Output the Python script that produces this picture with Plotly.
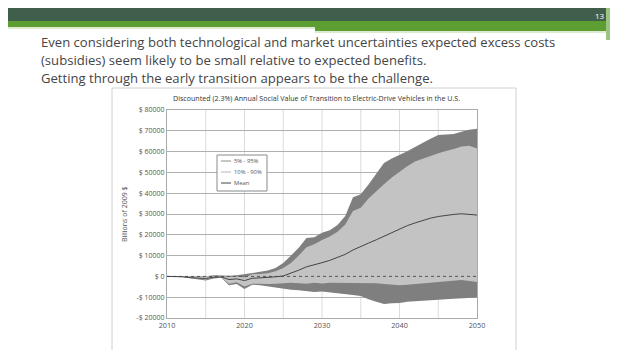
import plotly.graph_objects as go

years = list(range(2010, 2051))
upper_95 = [0, 0, 0, 0, 0, 0, 600, 400, 300, 500, 1000, 1500, 2000, 2800, 4000, 6500, 10000, 13800, 18500, 18800,
            21000, 22200, 24700, 29000, 38000, 39500, 44200, 49500, 54500, 56700, 58300, 60200, 62200, 64400, 66200,
            68000, 68300, 68500, 69500, 70500, 71000]
upper_90 = [0, 0, 0, 0, 0, 0, 200, 100, -300, 0, -500, 1000, 1200, 1500, 2500, 4000, 6500, 10000, 14000, 15500,
            17500, 19200, 21500, 25000, 31500, 33000, 37500, 41000, 44300, 47500, 50400, 53000, 55200, 56600, 58000,
            59200, 60300, 61200, 62500, 62800, 61500]
mean_v = [0, 0, -200, -600, -900, -1000, -400, -300, -1500, -1200, -2000, -900, -700, -600, -200, 200, 1500, 3000,
          4600, 5500, 6600, 7700, 9200, 10600, 12700, 14200, 16000, 17600, 19300, 21000, 22900, 24400, 25700, 26900,
          28000, 28800, 29400, 29800, 30100, 29900, 29500]
lower_10 = [0, 0, -200, -700, -1200, -1500, -500, -500, -3500, -2800, -4800, -3500, -3500, -3700, -3500, -3200,
            -3000, -3300, -3500, -3000, -3400, -3000, -3000, -3100, -3200, -3000, -3000, -3300, -3700, -4000, -4200,
            -4000, -3700, -3400, -3000, -2600, -2200, -1900, -1700, -2200, -2700]
lower_5 = [0, 0, -300, -900, -1600, -2000, -1000, -600, -4200, -3600, -6100, -4000, -4200, -4800, -5200, -5800,
           -6400, -6600, -7100, -7500, -7300, -7800, -8100, -8600, -9000, -9400, -11000, -12200, -13300, -12900,
           -12800, -12200, -11900, -11600, -11300, -11100, -11000, -10800, -10500, -10200, -10100]

y_ticks = [-20000, -10000, 0, 10000, 20000, 30000, 40000, 50000, 60000, 70000, 80000]
y_tick_text = ["-$ 20000", "-$ 10000", "$ 0", "$ 10000", "$ 20000", "$ 30000", "$ 40000", "$ 50000",
               "$ 60000", "$ 70000", "$ 80000"]
x_ticks = [2010, 2020, 2030, 2040, 2050]
legend_names = ["5% - 95%", "10% - 90%", "Mean"]

slide_lines = [
    "Even considering both technological and market uncertainties expected excess costs",
    "(subsidies) seem likely to be small relative to expected benefits.",
    "Getting through the early transition appears to be the challenge.",
]
chart_title = "Discounted (2.3%) Annual Social Value of Transition to Electric-Drive Vehicles in the U.S."

OFF = 8  # page body margin
W, H = 618 - OFF, 350 - OFF
L, R, T, B = 167, 477, 110, 318   # plot area in window pixels
def px(x):
    return (x - L) / (R - L)
def py(y):
    return (B - y) / (B - T)

DARK = "#7f7f7f"
LIGHT = "#c3c3c3"

fig = go.Figure()
fig.add_trace(go.Scatter(x=years, y=lower_5, mode="lines", line=dict(width=0, color=DARK), showlegend=False,
                         hoverinfo="skip"))
fig.add_trace(go.Scatter(x=years, y=upper_95, mode="lines", line=dict(width=0, color=DARK), fill="tonexty",
                         fillcolor=DARK, showlegend=False, hoverinfo="skip", name=legend_names[0]))
fig.add_trace(go.Scatter(x=years, y=lower_10, mode="lines", line=dict(width=0, color=LIGHT), showlegend=False,
                         hoverinfo="skip"))
fig.add_trace(go.Scatter(x=years, y=upper_90, mode="lines", line=dict(width=0, color=LIGHT), fill="tonexty",
                         fillcolor=LIGHT, showlegend=False, hoverinfo="skip", name=legend_names[1]))
fig.add_trace(go.Scatter(x=[2010, 2050], y=[0, 0], mode="lines", line=dict(width=1, color="#555555", dash="dot"),
                         showlegend=False, hoverinfo="skip"))
fig.add_trace(go.Scatter(x=years, y=mean_v, mode="lines", line=dict(width=1, color="#444444"), showlegend=False,
                         name=legend_names[2]))

shapes = [
    # chart box
    dict(type="rect", xref="paper", yref="paper", x0=px(112), x1=px(516), y0=py(352), y1=py(88),
         line=dict(color="#d0d0d0", width=1), fillcolor="white", layer="below"),
    # top bars
    dict(type="rect", xref="paper", yref="paper", x0=px(8), x1=px(620), y0=py(21), y1=py(5),
         line=dict(width=0), fillcolor="#3f5e4b", layer="below"),
    dict(type="rect", xref="paper", yref="paper", x0=px(8), x1=px(315), y0=py(27), y1=py(21),
         line=dict(width=0), fillcolor="#5c9e32", layer="below"),
    dict(type="rect", xref="paper", yref="paper", x0=px(315), x1=px(606), y0=py(31), y1=py(21),
         line=dict(width=0), fillcolor="#5c9e32", layer="below"),
    dict(type="rect", xref="paper", yref="paper", x0=px(8), x1=px(315), y0=py(29), y1=py(27),
         line=dict(width=0), fillcolor="#dcebd0", layer="below"),
    dict(type="rect", xref="paper", yref="paper", x0=px(315), x1=px(606), y0=py(33), y1=py(31),
         line=dict(width=0), fillcolor="#dcebd0", layer="below"),
    dict(type="rect", xref="paper", yref="paper", x0=px(606), x1=px(610), y0=py(40), y1=py(5),
         line=dict(width=0), fillcolor="#9cc47e", layer="below"),
    dict(type="rect", xref="paper", yref="paper", x0=px(612), x1=px(614), y0=py(40), y1=py(5),
         line=dict(width=0), fillcolor="#7aa65a", layer="below"),
    # legend box
    dict(type="rect", xref="paper", yref="paper", x0=px(217), x1=px(267), y0=py(191), y1=py(155),
         line=dict(color="#8a8a8a", width=1), fillcolor="white", layer="above"),
]

annotations = [
    dict(text="13", xref="paper", yref="paper", x=px(600), y=py(15), showarrow=False,
         font=dict(size=8, color="white", family="Open Sans"), xanchor="center", yanchor="middle"),
    dict(text=chart_title, xref="paper", yref="paper", x=px(316), y=py(98), showarrow=False,
         font=dict(size=7.1, color="#333333", family="Open Sans"), xanchor="center", yanchor="middle"),
    dict(text="Billions of 2009 $", xref="paper", yref="paper", x=px(124), y=py(215), showarrow=False,
         textangle=-90, font=dict(size=7, color="#555555", family="Open Sans"), xanchor="center",
         yanchor="middle"),
]
for i, line in enumerate(slide_lines):
    annotations.append(dict(text=line, xref="paper", yref="paper", x=px(39), y=py(42 + 18 * i), showarrow=False,
                            font=dict(size=13.1, color="#454545", family="Open Sans"), xanchor="left",
                            yanchor="middle"))
# manual legend
leg_colors = ["#8c8c8c", "#b8b8b8", "#444444"]
for i, (nm, c) in enumerate(zip(legend_names, leg_colors)):
    yy = 161 + 11 * i
    shapes.append(dict(type="line", xref="paper", yref="paper", x0=px(221), x1=px(231), y0=py(yy), y1=py(yy),
                       line=dict(color=c, width=1), layer="above"))
    annotations.append(dict(text=nm, xref="paper", yref="paper", x=px(232), y=py(yy), showarrow=False,
                            font=dict(size=5.8, color="#555555", family="Open Sans"), xanchor="left",
                            yanchor="middle"))

fig.update_layout(
    width=W, height=H,
    margin=dict(l=L - OFF, r=(W + OFF) - R, t=T - OFF, b=(H + OFF) - B),
    paper_bgcolor="white",
    plot_bgcolor="#f3f3f3",
    font=dict(family="Open Sans", color="#555555", size=6),
    shapes=shapes,
    annotations=annotations,
    showlegend=False,
    xaxis=dict(range=[2010, 2050], tickvals=x_ticks, showgrid=False, zeroline=False,
               ticks="", tickfont=dict(size=7.3, color="#555555"), showline=True, linecolor="#aaaaaa",
               mirror=True, fixedrange=True),
    yaxis=dict(range=[-20000, 80000], tickvals=y_ticks, ticktext=y_tick_text, showgrid=True,
               gridcolor="#b0b0b0", gridwidth=1, zeroline=False, ticks="", tickfont=dict(size=7, color="#555555"),
               showline=True, linecolor="#aaaaaa", mirror=True, fixedrange=True),
)
for yr in range(2015, 2050, 5):
    fig.add_shape(type="line", xref="x", yref="paper", x0=yr, x1=yr, y0=0, y1=1,
                  line=dict(color="#dcdcdc", width=1), layer="below")

fig.write_html("out.html")
